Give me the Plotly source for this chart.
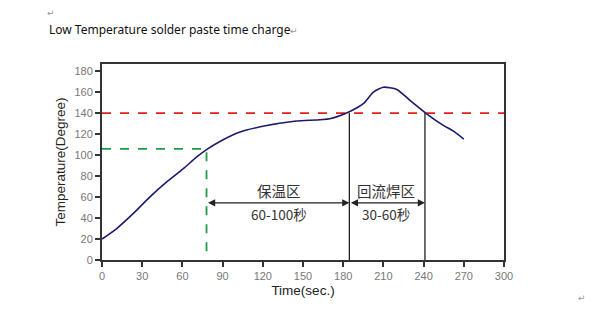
import plotly.graph_objects as go

# Reflow profile of low-temperature solder paste
time_s = [0, 11, 23.4, 35.8, 48.3, 60.7, 70.7, 78, 88, 103, 120, 145, 170,
          185, 195, 202.5, 210, 220, 230, 242, 254.7, 262, 270]
temp_c = [20, 30, 44.4, 60.2, 74.4, 87.1, 98.2, 105.2, 113, 122, 127.4, 132.4,
          134.7, 141.6, 149, 160, 164.7, 162.5, 152, 139.6, 128.3, 123, 115.3]

# Reference levels and zone boundaries
melt_temp = 140
soak_temp = 106
soak_start = 78
reflow_start = 184.6
reflow_end = 241
arrow_temp = 54.5

x_ticks = [0, 30, 60, 90, 120, 150, 180, 210, 240, 270, 300]
y_ticks = [0, 20, 40, 60, 80, 100, 120, 140, 160, 180]

zone_names = ["保温区", "回流焊区"]
zone_times = ["60-100秒", "30-60秒"]

fig = go.Figure()

# red dashed melting line
fig.add_trace(go.Scatter(x=[0, 300], y=[melt_temp, melt_temp], mode="lines",
                         line=dict(color="#e0201b", width=1.8, dash="dash"),
                         hoverinfo="skip"))
# green dashed soak marker
fig.add_trace(go.Scatter(x=[0, soak_start, soak_start], y=[soak_temp, soak_temp, 0],
                         mode="lines",
                         line=dict(color="#1e9a4a", width=1.8, dash="dash"),
                         hoverinfo="skip"))
# zone boundaries
for xb in [reflow_start, reflow_end]:
    fig.add_trace(go.Scatter(x=[xb, xb], y=[0, melt_temp], mode="lines",
                             line=dict(color="#222222", width=1.3),
                             hoverinfo="skip"))
# temperature curve
fig.add_trace(go.Scatter(x=time_s, y=temp_c, mode="lines",
                         line=dict(color="#1c1a6b", width=1.6, shape="spline",
                                   smoothing=0.6)))

# double-headed arrows for each zone
for x0, x1 in [(soak_start, reflow_start), (reflow_start, reflow_end)]:
    fig.add_annotation(x=x1, y=arrow_temp, ax=x0, ay=arrow_temp,
                       xref="x", yref="y", axref="x", ayref="y",
                       text="", showarrow=True, arrowside="end+start",
                       arrowhead=2, arrowsize=1.1, arrowwidth=1.3,
                       arrowcolor="#222222", standoff=0, startstandoff=0)

cjk = "Noto Sans CJK SC"
for cx, name, dur in [((soak_start + reflow_start) / 2 + 0.5, zone_names[0], zone_times[0]),
                      ((reflow_start + reflow_end) / 2 - 0.5, zone_names[1], zone_times[1])]:
    fig.add_annotation(x=cx, y=66.5, xref="x", yref="y", text=name, showarrow=False,
                       font=dict(family=cjk, size=14.5, color="#333333"))
    fig.add_annotation(x=cx, y=43.7, xref="x", yref="y", text=dur, showarrow=False,
                       font=dict(family=cjk, size=13.5, color="#333333"))

# page text
fig.add_annotation(x=47, y=29, xref="paper", yref="paper", text="Low Temperature solder paste time charge",
                   showarrow=False, xanchor="left", yanchor="middle",
                   font=dict(family="Noto Sans", size=12, color="#111111"))
for px, py in [(51, 12), (294, 30), (582, 298)]:
    fig.add_annotation(x=px, y=py, xref="paper", yref="paper", text="↵", showarrow=False,
                       xanchor="center", yanchor="middle",
                       font=dict(family="DejaVu Sans", size=9, color="#999999"))

W, H = 598, 333
ml, mr, mt, mb = 102, 94, 63.5, 73
# convert the page-text positions from pixels to paper coordinates
for ann in fig.layout.annotations:
    if ann.xref == "paper":
        ann.x = (ann.x - ml) / (W - ml - mr)
        ann.y = 1 - (ann.y - mt) / (H - mt - mb)

axis_font = dict(family="Liberation Sans", size=11, color="#777777")
fig.update_layout(
    width=W, height=H,
    margin=dict(l=ml, r=mr, t=mt, b=mb),
    paper_bgcolor="white", plot_bgcolor="white",
    showlegend=False,
    xaxis=dict(range=[0, 300], tickvals=x_ticks, ticks="outside", ticklen=5,
               tickwidth=1.5, tickcolor="#333333", showgrid=False, zeroline=False,
               showline=True, linecolor="#333333", linewidth=2, mirror=True,
               tickfont=axis_font,
               title=dict(text="Time(sec.)", standoff=4,
                          font=dict(family="Liberation Sans", size=13.5, color="#222222"))),
    yaxis=dict(range=[0, 186.8], tickvals=y_ticks, ticks="outside", ticklen=5,
               tickwidth=1.5, tickcolor="#333333", showgrid=False, zeroline=False,
               showline=True, linecolor="#333333", linewidth=2, mirror=True,
               tickfont=axis_font,
               title=dict(text="Temperature(Degree)", standoff=6,
                          font=dict(family="Liberation Sans", size=13.5, color="#222222"))),
)

fig.write_html("out.html")
